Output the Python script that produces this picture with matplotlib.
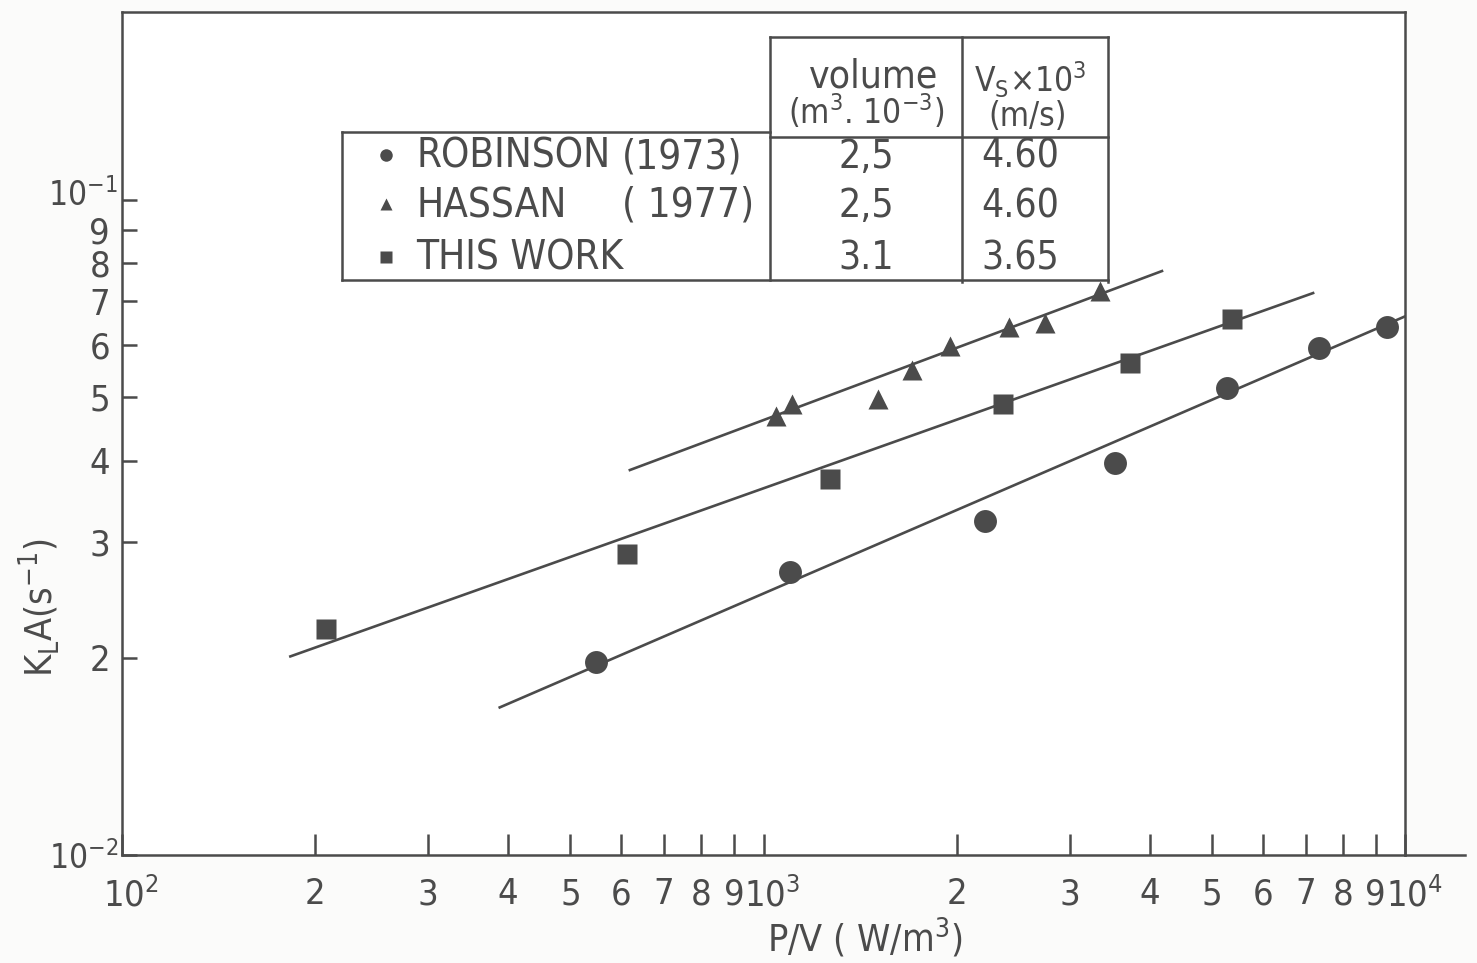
import matplotlib
matplotlib.use("Agg")
import matplotlib.pyplot as plt
from matplotlib.lines import Line2D
from matplotlib.ticker import FixedLocator, NullLocator, NullFormatter
from matplotlib.transforms import blended_transform_factory, offset_copy

# ---- data -------------------------------------------------------------
robinson_pv = [548, 1100, 2215, 3530, 5280, 7350, 9370]
robinson_kla = [0.0197, 0.0270, 0.0324, 0.0397, 0.0516, 0.0594, 0.0640]
robinson_fit_pv = [388, 10100]
robinson_fit_kla = [0.0168, 0.0667]

hassan_pv = [1046, 1108, 1509, 1704, 1953, 2414, 2747, 3346]
hassan_kla = [0.0468, 0.0488, 0.0497, 0.0550, 0.0598, 0.0640, 0.0649, 0.0726]
hassan_fit_pv = [619, 4180]
hassan_fit_kla = [0.0387, 0.0779]

work_pv = [208, 613, 1270, 2362, 3727, 5373]
work_kla = [0.0221, 0.0288, 0.0375, 0.0488, 0.0564, 0.0658]
work_fit_pv = [183, 7190]
work_fit_kla = [0.0201, 0.0721]

x_tick_values = [100, 200, 300, 400, 500, 600, 700, 800, 900,
                 1000, 2000, 3000, 4000, 5000, 6000, 7000, 8000, 9000, 10000]
x_tick_labels = ["$10^2$", "2", "3", "4", "5", "6", "7", "8", "9",
                 "$10^3$", "2", "3", "4", "5", "6", "7", "8", "9", "$10^4$"]
y_tick_values = [0.01, 0.02, 0.03, 0.04, 0.05, 0.06, 0.07, 0.08, 0.09, 0.1]
y_tick_labels = ["$10^{-2}$", "2", "3", "4", "5", "6", "7", "8", "9", "$10^{-1}$"]

table_names = ["ROBINSON", "HASSAN", "THIS WORK"]
table_years = ["(1973)", "( 1977)", ""]
table_volume = ["2,5", "2,5", "3.1"]
table_vs = ["4.60", "4.60", "3.65"]
table_markers = ["o", "^", "s"]

# ---- style ------------------------------------------------------------
INK = "#4b4b4b"
PAPER = "#fbfbfa"
plt.rcParams["font.family"] = ["DejaVu Sans"]
plt.rcParams["font.stretch"] = "condensed"
plt.rcParams["mathtext.default"] = "regular"
plt.rcParams["text.color"] = INK

W, H = 1477, 963
fig = plt.figure(figsize=(W / 100, H / 100), dpi=100, facecolor=PAPER)


def fx(x):
    return x / W


def fy(y):
    return 1 - y / H


ax = fig.add_axes([fx(122), fy(855), (1405 - 122) / W, (855 - 12) / H])
ax.set_facecolor("white")
ax.set_xscale("log")
ax.set_yscale("log")
ax.set_xlim(100, 10000)
ax.set_ylim(0.01, 10 ** (-2 + 843 / 655))

for s in ax.spines.values():
    s.set_color(INK)
    s.set_linewidth(1.8)

ax.xaxis.set_major_locator(FixedLocator(x_tick_values))
ax.xaxis.set_major_formatter(NullFormatter())
ax.xaxis.set_minor_locator(NullLocator())
ax.yaxis.set_major_locator(FixedLocator(y_tick_values))
ax.yaxis.set_major_formatter(NullFormatter())
ax.yaxis.set_minor_locator(NullLocator())
ax.tick_params(axis="x", direction="in", length=15, width=1.8, color=INK)
ax.tick_params(axis="y", direction="in", length=11, width=1.8, color=INK)

# tick labels: powers of ten keep the "10" over the tick, exponent trailing
xlab_tr = blended_transform_factory(ax.transData, ax.transAxes)
for val, lab in zip(x_tick_values, x_tick_labels):
    shift = 9 if lab.startswith("$10") else 0
    tr = offset_copy(xlab_tr, fig=fig, x=shift, y=-22, units="dots")
    ax.text(val, 0, lab, transform=tr, ha="center", va="top", fontsize=26,
            color=INK, clip_on=False)

ylab_tr = blended_transform_factory(ax.transAxes, ax.transData)
for val, lab in zip(y_tick_values, y_tick_labels):
    if lab.startswith("$10"):
        dx, dy, size = -4, (8 if val > 0.05 else 0), 24
    else:
        dx, dy, size = -12, 0, 26
    tr = offset_copy(ylab_tr, fig=fig, x=dx, y=dy, units="dots")
    ax.text(0, val, lab, transform=tr, ha="right", va="center_baseline",
            fontsize=size, color=INK, clip_on=False)

# fitted lines
lw = 1.9
ax.plot(robinson_fit_pv, robinson_fit_kla, color=INK, lw=lw, zorder=2)
ax.plot(hassan_fit_pv, hassan_fit_kla, color=INK, lw=lw, zorder=2)
ax.plot(work_fit_pv, work_fit_kla, color=INK, lw=lw, zorder=2)

# measured points
ax.plot(robinson_pv, robinson_kla, "o", color=INK, ms=16.5, mec="none", zorder=3)
ax.plot(hassan_pv, hassan_kla, "^", color=INK, ms=14.5, mec="none", zorder=3)
ax.plot(work_pv, work_kla, "s", color=INK, ms=14.5, mec="none", zorder=3)

# x axis carried a little past the last decade
fig.add_artist(Line2D([fx(1405), fx(1465)], [fy(855), fy(855)], color=INK, lw=1.8))

fig.text(fx(865), fy(938), "P/V ( W/m$^3$)", fontsize=27, color=INK,
         ha="center", va="center")
fig.text(fx(40), fy(608), "K$_L$A(s$^{-1}$)", rotation=90, fontsize=27,
         color=INK, ha="center", va="center")

# ---- table ------------------------------------------------------------
def hline(x0, x1, y):
    fig.add_artist(Line2D([fx(x0), fx(x1)], [fy(y), fy(y)], color=INK, lw=1.8, zorder=5))


def vline(x, y0, y1):
    fig.add_artist(Line2D([fx(x), fx(x)], [fy(y0), fy(y1)], color=INK, lw=1.8, zorder=5))


fig.patches.append(plt.Rectangle((fx(342), fy(280)), (770 - 342) / W, (280 - 132) / H,
                                 transform=fig.transFigure, facecolor="white",
                                 edgecolor="none", zorder=4))
fig.patches.append(plt.Rectangle((fx(770), fy(282)), (1108 - 770) / W, (282 - 37) / H,
                                 transform=fig.transFigure, facecolor="white",
                                 edgecolor="none", zorder=4))
hline(770, 1108, 37)
hline(342, 770, 132)
hline(770, 1108, 137)
hline(342, 1108, 280)
vline(342, 132, 280)
vline(770, 37, 280)
vline(962, 37, 282)
vline(1108, 37, 282)

fig.text(fx(874), fy(77), "volume", fontsize=28, ha="center", va="center", zorder=6)
fig.text(fx(866), fy(112), "(m$^3$. 10$^{-3}$)", fontsize=24, ha="center", va="center", zorder=6)
fig.text(fx(1030), fy(80), "V$_S$×10$^3$", fontsize=24, ha="center", va="center", zorder=6)
fig.text(fx(1028), fy(116), "(m/s)", fontsize=24, ha="center", va="center", zorder=6)

row_y = [157, 206, 259]
for yy, name, year, vol, vs, mk in zip(row_y, table_names, table_years,
                                       table_volume, table_vs, table_markers):
    fig.add_artist(Line2D([fx(386)], [fy(yy - 2)], marker=mk, color=INK, ms=9,
                          mec="none", linestyle="none", zorder=6))
    fig.text(fx(416), fy(yy), name, fontsize=29, ha="left", va="center", zorder=6)
    if year:
        fig.text(fx(622), fy(yy), year, fontsize=29, ha="left", va="center", zorder=6)
    fig.text(fx(866), fy(yy), vol, fontsize=28, ha="center", va="center", zorder=6)
    fig.text(fx(1020), fy(yy), vs, fontsize=28, ha="center", va="center", zorder=6)

fig.savefig("out.png", dpi=100, facecolor=PAPER)
